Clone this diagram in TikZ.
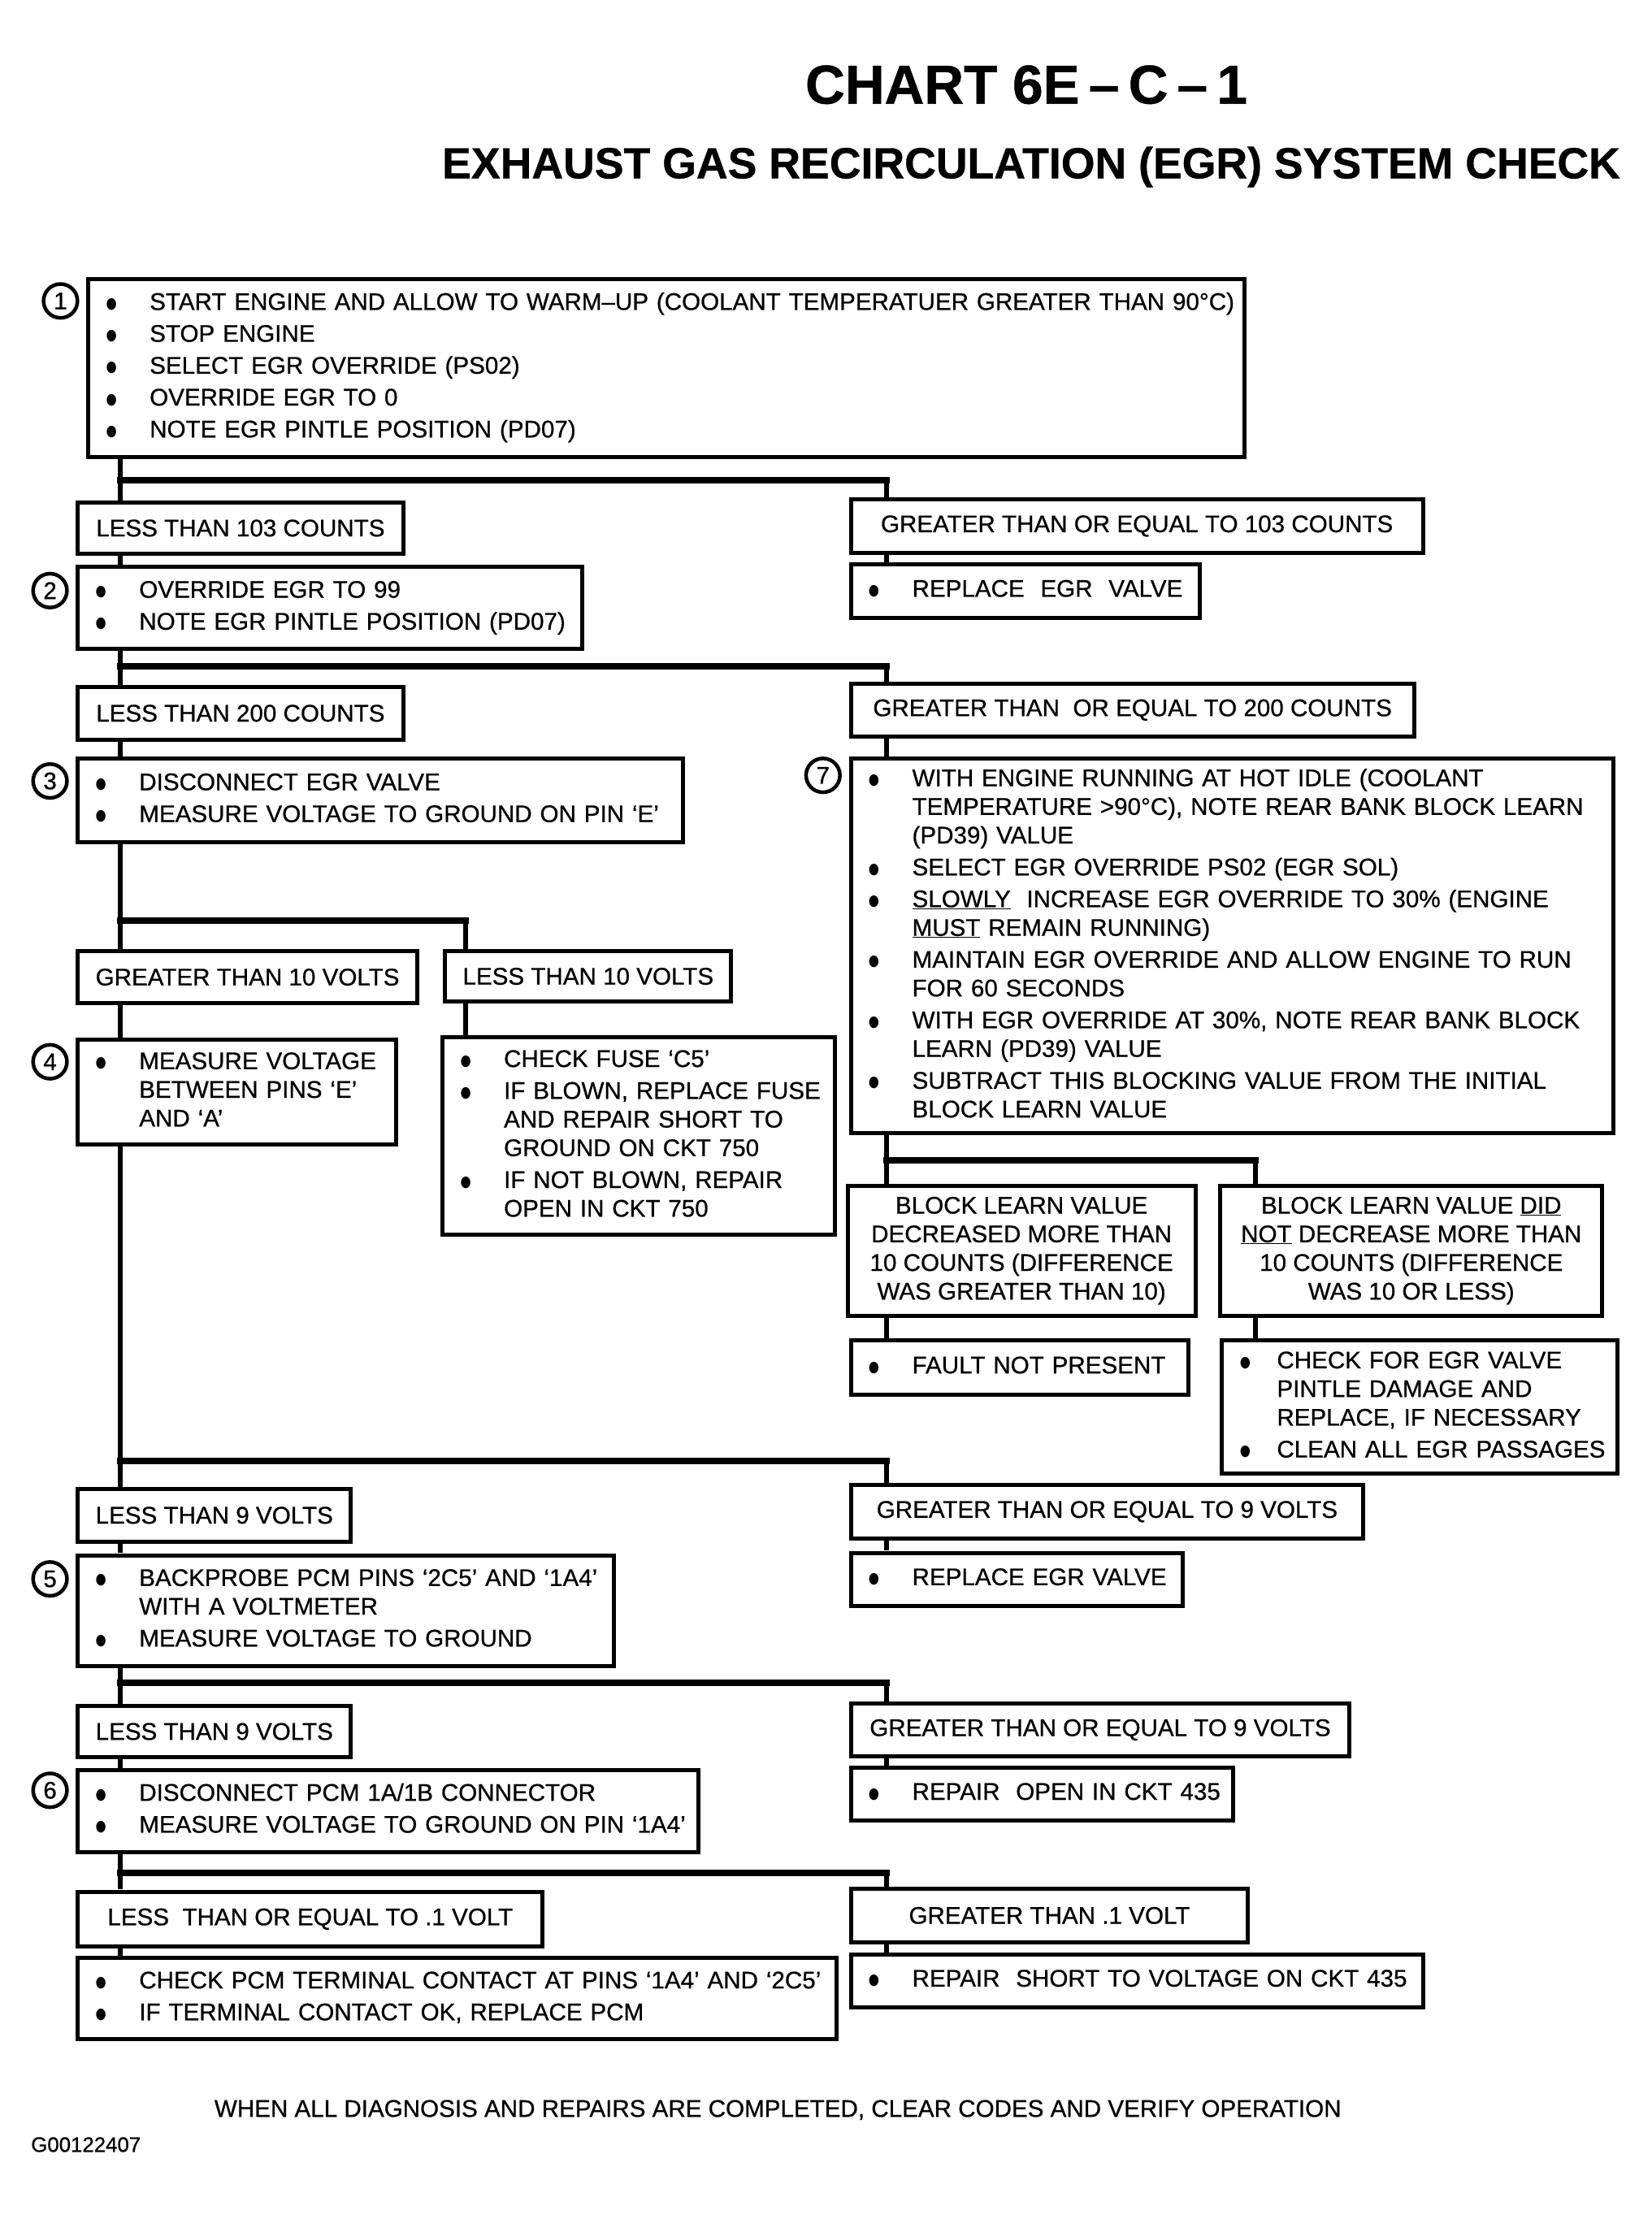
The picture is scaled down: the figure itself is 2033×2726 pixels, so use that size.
\documentclass[tikz,border=0pt]{standalone}
\usepackage{fontspec}
\setmainfont{Liberation Sans}[FakeBold=0.7]
\newfontfamily\dotfont{DejaVu Sans}
\usepackage{graphicx}
\usepackage{tikz}
\newcommand{\txt}{\fontsize{29.8}{35.5}\selectfont}
\newcommand{\pts}[2][54pt]{\begin{tabular}{@{}p{#1}@{}l@{}}#2\end{tabular}}
\newcommand{\bu}{\raisebox{2pt}{\scalebox{0.8}[1]{\dotfont\fontsize{19}{19}\selectfont ●}} &}

\begin{document}
\begin{tikzpicture}[x=1pt, y=-1pt]
  \tikzset{
    box/.style={draw, line width=5pt, anchor=north west, inner xsep=22pt, inner ysep=0pt, font=\txt},
    lbl/.style 2 args={box, align=center, minimum width=#1pt, minimum height=#2pt},
    lst/.style 2 args={box, align=left, text width=#1pt, minimum height=#2pt},
    num/.style={circle, draw, line width=4.5pt, minimum size=42pt, inner sep=0pt, font=\txt},
    wire/.style={line width=5.5pt},
    bar/.style={line width=8pt, line cap=rect}
  }
  \useasboundingbox (0,0) rectangle (2033,2726);
  \begin{scope}[scale=0.993, transform shape]

  \node[font=\fontsize{68}{76}\selectfont\bfseries] (title) at (1272,105) {CHART 6E\,–\,C\,–\,1};
  \node[font=\fontsize{54}{60}\selectfont\bfseries] (subtitle) at (1278,207) {EXHAUST GAS RECIRCULATION (EGR) SYSTEM CHECK};

  \coordinate (trunk) at (149,0);
  \coordinate (drop) at (1099,0);
  \coordinate (mid) at (577,0);
  \coordinate (far) at (1556,0);

  \node[lst={1389}{221}] (b1) at (107,343) {\pts{
    \bu START ENGINE AND ALLOW TO WARM–UP (COOLANT TEMPERATUER GREATER THAN 90°C)\\[4pt]
    \bu STOP ENGINE\\[4pt]
    \bu SELECT EGR OVERRIDE (PS02)\\[4pt]
    \bu OVERRIDE EGR TO 0\\[4pt]
    \bu NOTE EGR PINTLE POSITION (PD07)}};
  \node[lbl={403}{64}] (lt103) at (94,620) {LESS THAN 103 COUNTS};
  \node[lbl={709}{67}] (ge103) at (1052,616) {GREATER THAN OR EQUAL TO 103 COUNTS};
  \node[lst={581}{102}] (b2) at (94,700) {\pts{
    \bu OVERRIDE EGR TO 99\\[4pt]
    \bu NOTE EGR PINTLE POSITION (PD07)}};
  \node[lst={388}{66}] (rep1) at (1052,697) {\pts{\bu REPLACE\ \ EGR\ \ VALVE}};
  \node[lbl={403}{65}] (lt200) at (94,849) {LESS THAN 200 COUNTS};
  \node[lbl={698}{65}] (ge200) at (1052,845) {GREATER THAN\ \ OR EQUAL TO 200 COUNTS};
  \node[lst={706}{103}] (b3) at (94,938) {\pts{
    \bu DISCONNECT EGR VALVE\\[4pt]
    \bu MEASURE VOLTAGE TO GROUND ON PIN ‘E’}};
  \node[lst={901}{464}] (b7) at (1052,938) {\pts{
    \bu WITH ENGINE RUNNING AT HOT IDLE (COOLANT\\
    & TEMPERATURE >90°C), NOTE REAR BANK BLOCK LEARN\\
    & (PD39) VALUE\\[4pt]
    \bu SELECT EGR OVERRIDE PS02 (EGR SOL)\\[4pt]
    \bu \underline{SLOWLY}\ \ INCREASE EGR OVERRIDE TO 30\% (ENGINE\\
    & \underline{MUST} REMAIN RUNNING)\\[4pt]
    \bu MAINTAIN EGR OVERRIDE AND ALLOW ENGINE TO RUN\\
    & FOR 60 SECONDS\\[4pt]
    \bu WITH EGR OVERRIDE AT 30\%, NOTE REAR BANK BLOCK\\
    & LEARN (PD39) VALUE\\[4pt]
    \bu SUBTRACT THIS BLOCKING VALUE FROM THE INITIAL\\
    & BLOCK LEARN VALUE}};
  \node[lbl={413}{65}] (gt10) at (94,1176) {GREATER THAN 10 VOLTS};
  \node[lbl={351}{63}] (lt10) at (549,1176) {LESS THAN 10 VOLTS};
  \node[lst={350}{130}] (b4) at (94,1286) {\pts{
    \bu MEASURE VOLTAGE\\
    & BETWEEN PINS ‘E’\\
    & AND ‘A’}};
  \node[lst={442}{245}] (fuse) at (546,1283) {\pts{
    \bu CHECK FUSE ‘C5’\\[4pt]
    \bu IF BLOWN, REPLACE FUSE\\
    & AND REPAIR SHORT TO\\
    & GROUND ON CKT 750\\[4pt]
    \bu IF NOT BLOWN, REPAIR\\
    & OPEN IN CKT 750}};
  \node[lbl={431}{161}] (bl1) at (1048,1467) {BLOCK LEARN VALUE\\DECREASED MORE THAN\\10 COUNTS (DIFFERENCE\\WAS GREATER THAN 10)};
  \node[lbl={473}{161}] (bl2) at (1510,1467) {BLOCK LEARN VALUE \underline{DID}\\\underline{NOT} DECREASE MORE THAN\\10 COUNTS (DIFFERENCE\\WAS 10 OR LESS)};
  \node[lst={374}{67}] (fault) at (1052,1659) {\pts{\bu FAULT NOT PRESENT}};
  \node[lst={446}{165}] (chk) at (1512,1659) {\pts[46pt]{
    \bu CHECK FOR EGR VALVE\\
    & PINTLE DAMAGE AND\\
    & REPLACE, IF NECESSARY\\[4pt]
    \bu CLEAN ALL EGR PASSAGES}};
  \node[lbl={335}{65}] (lt9a) at (94,1843) {LESS THAN 9 VOLTS};
  \node[lbl={635}{66}] (ge9a) at (1052,1838) {GREATER THAN OR EQUAL TO 9 VOLTS};
  \node[lst={620}{137}] (b5) at (94,1925) {\pts{
    \bu BACKPROBE PCM PINS ‘2C5’ AND ‘1A4’\\
    & WITH A VOLTMETER\\[4pt]
    \bu MEASURE VOLTAGE TO GROUND}};
  \node[lst={367}{66}] (rep2) at (1052,1922) {\pts{\bu REPLACE EGR VALVE}};
  \node[lbl={335}{63}] (lt9b) at (94,2112) {LESS THAN 9 VOLTS};
  \node[lbl={618}{65}] (ge9b) at (1052,2109) {GREATER THAN OR EQUAL TO 9 VOLTS};
  \node[lst={725}{102}] (b6) at (94,2191) {\pts{
    \bu DISCONNECT PCM 1A/1B CONNECTOR\\[4pt]
    \bu MEASURE VOLTAGE TO GROUND ON PIN ‘1A4’}};
  \node[lst={430}{66}] (rep3) at (1052,2188) {\pts{\bu REPAIR\ \ OPEN IN CKT 435}};
  \node[lbl={576}{68}] (le01) at (94,2342) {LESS\ \ THAN OR EQUAL TO .1 VOLT};
  \node[lbl={492}{67}] (gt01) at (1052,2338) {GREATER THAN .1 VOLT};
  \node[lst={896}{101}] (fin) at (94,2424) {\pts{
    \bu CHECK PCM TERMINAL CONTACT AT PINS ‘1A4’ AND ‘2C5’\\[4pt]
    \bu IF TERMINAL CONTACT OK, REPLACE PCM}};
  \node[lst={665}{65}] (rep4) at (1052,2420) {\pts{\bu REPAIR\ \ SHORT TO VOLTAGE ON CKT 435}};

  \node[num] (n1) at ([xshift=-32pt, yshift=-30pt]b1.north west) {1};
  \node[num] (n2) at ([xshift=-32pt, yshift=-32pt]b2.north west) {2};
  \node[num] (n3) at ([xshift=-32pt, yshift=-30pt]b3.north west) {3};
  \node[num] (n4) at ([xshift=-32pt, yshift=-30pt]b4.north west) {4};
  \node[num] (n5) at ([xshift=-32pt, yshift=-32pt]b5.north west) {5};
  \node[num] (n6) at ([xshift=-32pt, yshift=-28pt]b6.north west) {6};
  \node[num] (n7) at ([xshift=-32pt, yshift=-23pt]b7.north west) {7};

  \coordinate (j1) at (149,595);
  \coordinate (j2) at (149,826);
  \coordinate (j3) at (149,1141);
  \coordinate (j4) at (149,1811);
  \coordinate (j5) at (149,2086);
  \coordinate (j6) at (149,2321);
  \coordinate (j7) at (1099,1438);

  \draw[wire] (b1.south -| trunk) -- (lt103.north -| trunk);
  \draw[wire] (lt103.south -| trunk) -- (b2.north -| trunk);
  \draw[wire] (b2.south -| trunk) -- (lt200.north -| trunk);
  \draw[wire] (lt200.south -| trunk) -- (b3.north -| trunk);
  \draw[wire] (b3.south -| trunk) -- (gt10.north -| trunk);
  \draw[wire] (gt10.south -| trunk) -- (b4.north -| trunk);
  \draw[wire] (b4.south -| trunk) -- (lt9a.north -| trunk);
  \draw[wire] (lt9a.south -| trunk) -- (b5.north -| trunk);
  \draw[wire] (b5.south -| trunk) -- (lt9b.north -| trunk);
  \draw[wire] (lt9b.south -| trunk) -- (b6.north -| trunk);
  \draw[wire] (b6.south -| trunk) -- (le01.north -| trunk);
  \draw[wire] (le01.south -| trunk) -- (fin.north -| trunk);

  \draw[wire] (j1 -| drop) -- (ge103.north -| drop);
  \draw[wire] (ge103.south -| drop) -- (rep1.north -| drop);
  \draw[wire] (j2 -| drop) -- (ge200.north -| drop);
  \draw[wire] (ge200.south -| drop) -- (b7.north -| drop);
  \draw[wire] (b7.south -| drop) -- (bl1.north -| drop);
  \draw[wire] (bl1.south -| drop) -- (fault.north -| drop);
  \draw[wire] (j7 -| far) -- (bl2.north -| far);
  \draw[wire] (bl2.south -| far) -- (chk.north -| far);
  \draw[wire] (j3 -| mid) -- (lt10.north -| mid);
  \draw[wire] (lt10.south -| mid) -- (fuse.north -| mid);
  \draw[wire] (j4 -| drop) -- (ge9a.north -| drop);
  \draw[wire] (ge9a.south -| drop) -- (rep2.north -| drop);
  \draw[wire] (j5 -| drop) -- (ge9b.north -| drop);
  \draw[wire] (ge9b.south -| drop) -- (rep3.north -| drop);
  \draw[wire] (j6 -| drop) -- (gt01.north -| drop);
  \draw[wire] (gt01.south -| drop) -- (rep4.north -| drop);

  \draw[bar] (j1) -- (j1 -| drop);
  \draw[bar] (j2) -- (j2 -| drop);
  \draw[bar] (j3) -- (j3 -| mid);
  \draw[bar] (j4) -- (j4 -| drop);
  \draw[bar] (j5) -- (j5 -| drop);
  \draw[bar] (j6) -- (j6 -| drop);
  \draw[bar] (j7) -- (j7 -| far);

  \node[font=\txt] (note) at (964,2615) {WHEN ALL DIAGNOSIS AND REPAIRS ARE COMPLETED, CLEAR CODES AND VERIFY OPERATION};
  \node[font=\fontsize{26}{30}\selectfont, anchor=west] (code) at (35,2658) {G00122407};
  \end{scope}
\end{tikzpicture}
\end{document}
